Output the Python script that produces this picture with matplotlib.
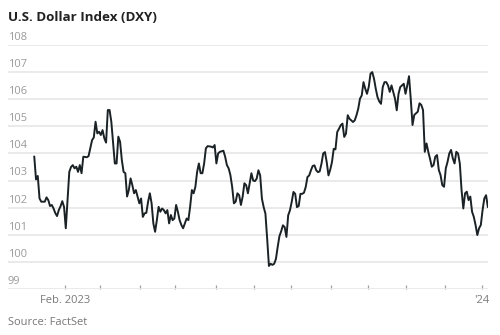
import matplotlib
matplotlib.use("Agg")
import matplotlib.pyplot as plt
import numpy as np
import pandas as pd

# U.S. Dollar Index, daily closes, one value per weekday starting 2023-01-06
start_date = "2023-01-06"
dxy = [
    103.88, 103.04, 103.17, 102.34, 102.22, 102.22, 102.22, 102.38, 102.28, 102.06,
    102.10, 101.97, 101.80, 101.69, 101.91, 102.05, 102.24, 102.03, 101.24, 102.28,
    103.32, 103.50, 103.57, 103.45, 103.51, 103.32, 103.57, 103.27, 103.88, 103.87,
    103.86, 103.90, 104.20, 104.49, 104.59, 105.17, 104.74, 104.80, 104.68, 104.86,
    104.56, 104.40, 105.60, 105.60, 105.17, 104.40, 103.63, 103.63, 104.62, 104.43,
    103.76, 103.32, 103.27, 102.41, 102.65, 103.08, 102.83, 102.53, 102.65, 102.41,
    102.16, 102.34, 101.66, 101.79, 101.81, 102.22, 102.53, 102.16, 101.42, 101.11,
    101.54, 102.03, 101.85, 101.97, 101.91, 101.79, 101.91, 101.42, 101.73, 101.54,
    101.60, 102.10, 101.85, 101.54, 101.36, 101.24, 101.42, 101.60, 101.54, 102.03,
    102.65, 102.53, 102.77, 103.32, 103.63, 103.27, 103.27, 103.63, 104.19, 104.27,
    104.26, 104.25, 104.22, 104.31, 103.63, 104.00, 104.06, 104.08, 104.10, 103.88,
    103.57, 103.45, 103.20, 102.77, 102.16, 102.22, 102.53, 102.46, 102.10, 102.41,
    102.90, 102.83, 102.53, 102.90, 103.27, 103.00, 102.98, 103.07, 103.38, 103.19,
    102.33, 102.02, 101.78, 100.85, 99.85, 99.93, 99.89, 99.93, 100.11, 100.55,
    100.95, 101.13, 101.35, 101.28, 100.92, 101.72, 101.90, 102.21, 102.58, 102.51,
    102.02, 102.06, 102.51, 102.51, 102.55, 102.76, 103.13, 103.19, 103.38, 103.54,
    103.56, 103.38, 103.31, 103.34, 103.62, 104.00, 104.05, 103.68, 103.19, 103.40,
    103.68, 104.17, 104.15, 104.79, 104.91, 105.04, 105.10, 104.61, 104.73, 105.41,
    105.28, 105.22, 105.16, 105.22, 105.41, 105.65, 106.02, 106.14, 106.63, 106.39,
    106.20, 106.45, 106.94, 107.00, 106.76, 106.39, 106.08, 105.92, 105.83, 106.45,
    106.63, 106.63, 106.51, 106.27, 106.51, 106.27, 106.02, 105.59, 106.20, 106.45,
    106.51, 106.57, 106.20, 106.51, 106.85, 106.00, 105.05, 105.42, 105.48, 105.54,
    105.85, 105.79, 105.60, 104.06, 104.37, 104.06, 103.80, 103.51, 103.57, 103.88,
    103.94, 103.39, 103.20, 102.83, 102.77, 103.45, 103.69, 104.00, 104.13, 103.82,
    103.63, 104.06, 104.00, 103.63, 102.65, 101.97, 102.53, 102.59, 102.28, 102.41,
    101.85, 101.66, 101.36, 100.99, 101.24, 101.36, 101.91, 102.34, 102.46, 102.03,
]
y_ticks = list(range(99, 109))
labelled_months = {"2023-02": "Feb. 2023", "2024-01": "'24"}

plt.rcParams["font.family"] = ["Open Sans", "DejaVu Sans"]

dates = pd.bdate_range(start_date, periods=len(dxy))
session = np.arange(len(dxy))

# x axis runs on trading sessions; month ticks sit between months
months = dates.to_period("M")
first_idx = [i for i in range(1, len(dates)) if months[i] != months[i - 1]]
tick_pos = [i - 0.5 for i in first_idx]
tick_lab = [labelled_months.get(str(months[i]), "") for i in first_idx]

fig = plt.figure(figsize=(5, 3.35), dpi=100)
ax = fig.add_axes([8 / 500, 1 - 289 / 335, 480 / 500, 244 / 335])

ax.plot(session, dxy, color="#1b2226", lw=1.4, solid_joinstyle="round", zorder=3)

ax.set_xlim(-15, 259.1)
ax.set_ylim(99, 108)
ax.set_yticks(y_ticks)
ax.yaxis.grid(True, color="#e8e8e8", lw=1.3)
ax.tick_params(axis="y", length=0, labelleft=False)
for v in y_ticks:
    ax.annotate(str(v), xy=(0, v), xycoords=ax.get_yaxis_transform(),
                xytext=(0, 1.5), textcoords="offset points",
                ha="left", va="bottom", fontsize=8, color="#9a9a9a")

ax.set_xticks(tick_pos)
ax.set_xticklabels(tick_lab)
ax.tick_params(axis="x", direction="in", length=3, width=0.9, color="#a0a0a0",
               labelsize=8, labelcolor="#7a7a7a", pad=4)

for s in ax.spines.values():
    s.set_visible(False)
ax.set_axisbelow(True)

fig.text(8 / 500, 1 - 21 / 335, "U.S. Dollar Index (DXY)", fontsize=9.6,
         fontweight="bold", color="#222222", va="baseline")
fig.text(8 / 500, 1 - 325 / 335, "Source: FactSet", fontsize=8,
         color="#777777", va="baseline")

fig.savefig("out.png", dpi=100, facecolor="white")
